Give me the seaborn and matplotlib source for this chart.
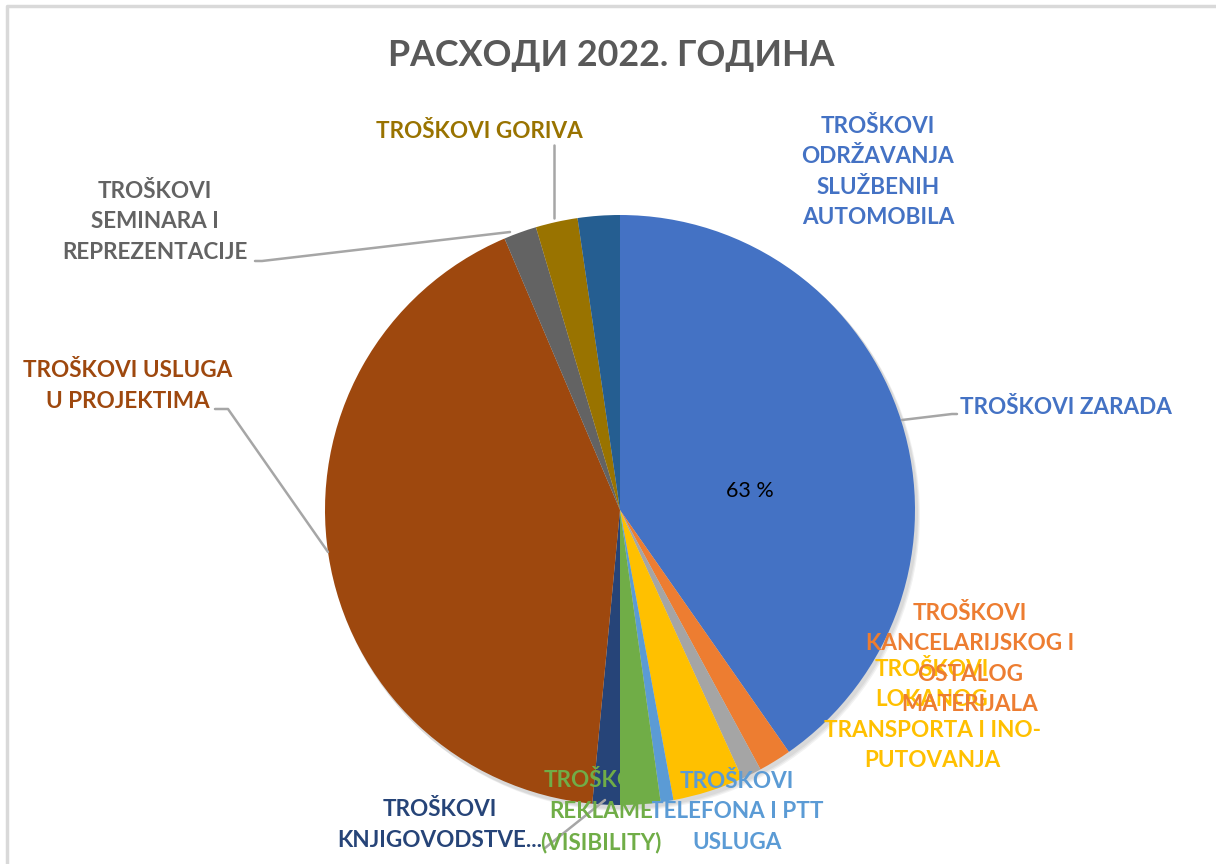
import matplotlib
matplotlib.use("Agg")
import matplotlib.pyplot as plt
import seaborn as sns
from matplotlib.patches import Circle

sns.set_theme(style="white")
plt.rcParams['font.family'] = ['Lato', 'DejaVu Sans']

title = "РАСХОДИ 2022. ГОДИНА"

categories = [
    "TROŠKOVI ZARADA",
    "TROŠKOVI KANCELARIJSKOG I OSTALOG MATERIJALA",
    "OSTALO",
    "TROŠKOVI LOKANOG TRANSPORTA I INO-PUTOVANJA",
    "TROŠKOVI TELEFONA I PTT USLUGA",
    "TROŠKOVI REKLAME (VISIBILITY)",
    "TROŠKOVI KNJIGOVODSTVE...",
    "TROŠKOVI USLUGA U PROJEKTIMA",
    "TROŠKOVI SEMINARA I REPREZENTACIJE",
    "TROŠKOVI GORIVA",
    "TROŠKOVI ODRŽAVANJA SLUŽBENIH AUTOMOBILA",
]
values = [40.3, 1.8, 1.1, 3.9, 0.7, 2.2, 1.5, 42.1, 1.8, 2.3, 2.3]
colors = ["#4472C4", "#ED7D31", "#A5A5A5", "#FFC000", "#5B9BD5", "#70AD47",
          "#264478", "#9E480E", "#636363", "#997300", "#255E91"]
inner_label = "63 %"

# label texts (as shown in the chart, wrapped)
label_texts = {
    "zarada": "TROŠKOVI ZARADA",
    "odrz": "TROŠKOVI\nODRŽAVANJA\nSLUŽBENIH\nAUTOMOBILA",
    "goriva": "TROŠKOVI GORIVA",
    "seminara": "TROŠKOVI\nSEMINARA I\nREPREZENTACIJE",
    "usluga": "TROŠKOVI USLUGA\nU PROJEKTIMA",
    "knjig": "TROŠKOVI\nKNJIGOVODSTVE...",
    "reklame": "TROŠKOVI\nREKLAME\n(VISIBILITY)",
    "telefon": "TROŠKOVI\nTELEFONA I PTT\nUSLUGA",
    "lokanog": "TROŠKOVI\nLOKANOG\nTRANSPORTA I INO-\nPUTOVANJA",
    "kancel": "TROŠKOVI\nKANCELARIJSKOG I\nOSTALOG\nMATERIJALA",
}

W, H = 1216, 864
fig = plt.figure(figsize=(W / 100, H / 100), dpi=100)
fig.patch.set_facecolor("white")
ax = fig.add_axes([0, 0, 1, 1])
ax.set_xlim(0, W)
ax.set_ylim(H, 0)
ax.axis("off")

# border of chart area
ax.plot([7, 7, W + 5], [H + 5, 6, 6], color="#D9D9D9", lw=2.5, solid_capstyle="butt")

cx, cy, R = 620, 510, 295
# soft shadow
for i, a in enumerate([0.05, 0.05, 0.05]):
    ax.add_patch(Circle((cx + 2 + i, cy + 3 + i), R + 1, color="#000000", alpha=a, lw=0, zorder=1))

# pie with y-axis inverted: counterclock=True visually becomes clockwise
wedges, _ = ax.pie(values, colors=colors, startangle=-90, counterclock=True,
                   center=(cx, cy), radius=R, frame=True,
                   wedgeprops=dict(linewidth=0, zorder=2))
ax.set_xlim(0, W)
ax.set_ylim(H, 0)
ax.axis("off")
ax.set_aspect("equal")

ax.text(W / 2 + 3, 55, title, ha="center", va="center", fontsize=25.8,
        fontweight="bold", color="#595959")
ax.text(750, 491, inner_label, ha="center", va="center", fontsize=15.5, color="#000000")

fs = 16.2
ls = 1.56
def lab(key, x, y, color):
    ax.text(x, y, label_texts[key], ha="center", va="center", fontsize=fs,
            fontweight="bold", color=color, linespacing=ls, zorder=5)

lab("zarada", 1066, 408, "#4472C4")
lab("odrz", 878, 172, "#4472C4")
lab("goriva", 479, 132, "#997300")
lab("seminara", 155, 222, "#636363")
lab("usluga", 128, 386, "#9E480E")
lab("knjig", 440, 825, "#264478")
lab("telefon", 737, 812, "#5B9BD5")
lab("reklame", 601, 812, "#70AD47")
lab("lokanog", 932, 715, "#FFC000")
lab("kancel", 970, 659, "#ED7D31")

lc = "#A6A6A6"
ax.plot([902, 952, 957], [420, 414, 414], color=lc, lw=1.8, zorder=4)
ax.plot([215, 228, 328], [409, 409, 552], color=lc, lw=1.8, zorder=4)
ax.plot([554, 554], [145, 218], color=lc, lw=1.8, zorder=4)
ax.plot([255, 262, 510], [261, 261, 232], color=lc, lw=1.8, zorder=4)
ax.plot([545, 605], [848, 800], color=lc, lw=1.8, zorder=4)

fig.savefig("out.png", dpi=100, facecolor="white")
